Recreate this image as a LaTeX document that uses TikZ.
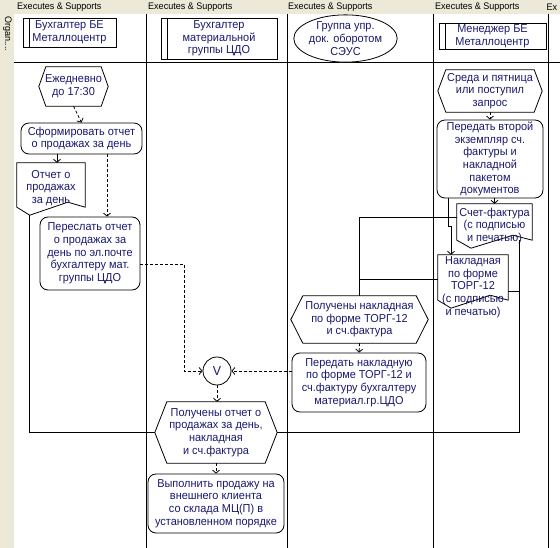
\documentclass[tikz,border=0pt]{standalone}
\usepackage{fontspec}
\setmainfont[FakeStretch=0.95]{Liberation Sans}
\usetikzlibrary{arrows.meta,calc,shapes.geometric}
\definecolor{beige}{RGB}{236,233,216}
\definecolor{txtblue}{RGB}{25,25,110}
\tikzset{
  ln/.style={draw=black, line width=0.8pt},
  txt/.style={text=txtblue, font=\fontsize{11.5}{12.7}\selectfont, align=center, inner sep=0pt},
  rbox/.style={ln, txt, rounded corners=8pt, fill=white},
  hbox/.style={ln, txt, fill=white},
  hdr/.style={font=\fontsize{9.5}{10}\selectfont, text=black, anchor=west, inner sep=0pt},
  flow/.style={ln, dash pattern=on 3pt off 2pt, -{Straight Barb[length=3pt,width=7pt]}},
  info/.style={ln, -{Straight Barb[length=3pt,width=7pt]}},
  link/.style={ln},
  lane/.style={draw=black, line width=0.8pt},
}
% hexagon: name, x, y, w, h, indent, text
\newcommand\hexnode[7]{%
  \node[txt, minimum width=#4pt, minimum height=#5pt] (#1) at (#2,#3) {#7};
  \draw[ln] (#1.west) -- ([xshift=#6pt]#1.north west) -- ([xshift=-#6pt]#1.north east) -- (#1.east)
    -- ([xshift=-#6pt]#1.south east) -- ([xshift=#6pt]#1.south west) -- cycle;}
% document: name, x, y, w, h, text dy, text
\newcommand\docnode[7]{%
  \node[minimum width=#4pt, minimum height=#5pt, inner sep=0pt] (#1) at (#2,#3) {};
  \coordinate (#1-low) at ($(#1.south west)+(0.19*#4,8)$);
  \coordinate (#1-high) at ($(#1.south west)+(0.75*#4,-5)$);
  \draw[ln] (#1.south west) -- (#1.north west) -- (#1.north east) -- (#1.south east)
    -- (#1-high) -- (#1-low) -- cycle;
  \node[txt] (#1-t) at ($(#1.center)+(0,#6)$) {#7};}
\newcommand\headbox[6]{% name, x, y, w, h, text
  \node[hbox, minimum width=#4pt, minimum height=#5pt] (#1) at (#2,#3) {#6};
  \draw[ln] ([xshift=6.5pt]#1.north west) -- ([xshift=6.5pt]#1.south west);}
\begin{document}
\begin{tikzpicture}[x=1pt,y=-1pt]
\useasboundingbox (0,0) rectangle (560,548);
\fill[beige] (0,0) rectangle (560,14);
\fill[beige] (0,0) rectangle (14,548);
\node[hdr] (l1) at (17,7) {Executes \& Supports};
\node[hdr] (l2) at (148,7) {Executes \& Supports};
\node[hdr] (l3) at (288,7) {Executes \& Supports};
\node[hdr] (l4) at (435,7) {Executes \& Supports};
\node[hdr] (l5) at (546.5,7) {Ex};
\node[hdr, rotate=-90] (org) at (7.5,16) {Organ....};

% lanes
\draw[lane] (146,14) -- (146,548);
\draw[lane] (287,14) -- (287,548);
\draw[lane] (433,14) -- (433,548);
\draw[lane] (548,14) -- (548,548);
\draw[lane] (14,62) -- (560,62);

% headers
\headbox{h1}{69.5}{32.5}{93}{29}{Бухгалтер БЕ\\Металлоцентр}
\headbox{h2}{219}{38.5}{116}{41}{Бухгалтер\\материальной\\группы ЦДО}
\node[ln, txt, ellipse, minimum width=89pt, minimum height=37pt, fill=white] (h3) at (345.5,38.5) {Группа упр.\\док. оборотом\\СЭУС};
\headbox{h4}{492.5}{36}{107}{26}{Менеджер БЕ\\Металлоцентр}

% lane 1
\hexnode{ej}{73.5}{86.5}{69}{39}{7}{Ежедневно\\до 17:30}
\node[rbox, minimum width=121pt, minimum height=31pt] (sf) at (81.5,138.5) {Сформировать отчет\\о продажах за день};
\docnode{ot}{51}{185}{68}{44}{3}{Отчет о\\продажах\\за день}
\node[rbox, minimum width=100pt, minimum height=73pt] (pr) at (90,253.5) {Переслать отчет\\о продажах за\\день по эл.почте\\бухгалтеру мат.\\группы ЦДО};

% lane 2
\node[ln, txt, circle, minimum size=28pt, fill=white, font=\fontsize{13}{13}\selectfont] (orj) at (217,371) {V};
\hexnode{po}{216}{432.5}{122}{61}{12}{Получены отчет о\\продажах за день,\\накладная\\и сч.фактура}
\node[rbox, minimum width=136pt, minimum height=59pt] (vy) at (216,503.5) {Выполнить продажу на\\внешнего клиента\\со склада МЦ(П) в\\установленном порядке};

% lane 3
\hexnode{pnh}{359.5}{319.5}{137}{47}{12}{Получены накладная\\по форме ТОРГ-12\\и сч.фактура}
\node[rbox, minimum width=134pt, minimum height=59pt] (pn) at (359,382.5) {Передать накладную\\по форме ТОРГ-12 и\\сч.фактуру бухгалтеру\\материал.гр.ЦДО};

% lane 4
\hexnode{sr}{490}{91}{104}{42}{8}{Среда и пятница\\или поступил\\запрос}
\node[rbox, minimum width=106pt, minimum height=78pt] (pv) at (490,159) {Передать второй\\экземпляр сч.\\фактуры и\\накладной\\пакетом\\документов};
\docnode{sch}{494.5}{222}{75}{36}{4}{Счет-фактура\\(с подписью\\и печатью)}
\docnode{nk}{473}{277.5}{70}{45}{9.5}{Накладная\\по форме\\ТОРГ-12\\(с подписью\\и печатью)}

% control flow
\draw[flow] (ej.south) -- (sf.north);
\draw[flow] ([xshift=25.5pt]sf.south) -- ([xshift=25.5pt]sf.south |- pr.north);
\draw[flow] ([yshift=-10.5pt]pr.east) -- ++(44,0) |- (orj.west);
\draw[flow] (pn.west |- orj.east) -- (orj.east);
\draw[flow] (orj.south) -- (orj.south |- po.north);
\draw[flow] (po.south) -- (vy.north);
\draw[flow] (sr.south) -- (pv.north);
\draw[flow] (pnh.south) -- (pn.north);

% information carriers
\draw[info] ([xshift=-24.5pt]sf.south) -- ([xshift=-24.5pt]sf.south |- ot.north);
\draw[info] (sch.north |- pv.south) -- (sch.north);
\draw[info] ([xshift=-42pt]pv.south) -- ++(0,28) -| ([xshift=-22pt]nk.north);
\draw[link] (ot-low) |- (po.west);
\draw[link] ([xshift=-13pt]sch.south east) |- (po.east);
\draw[link] ([yshift=-13.5pt]nk.east) -- ([yshift=-13.5pt,xshift=11pt]nk.east);
\draw[link] ([yshift=5pt]sch.west) -| (pnh.north);
\draw[link] ([yshift=-1.5pt]nk.west) -- ([yshift=-1.5pt]nk.west -| pnh.north);
\end{tikzpicture}
\end{document}
